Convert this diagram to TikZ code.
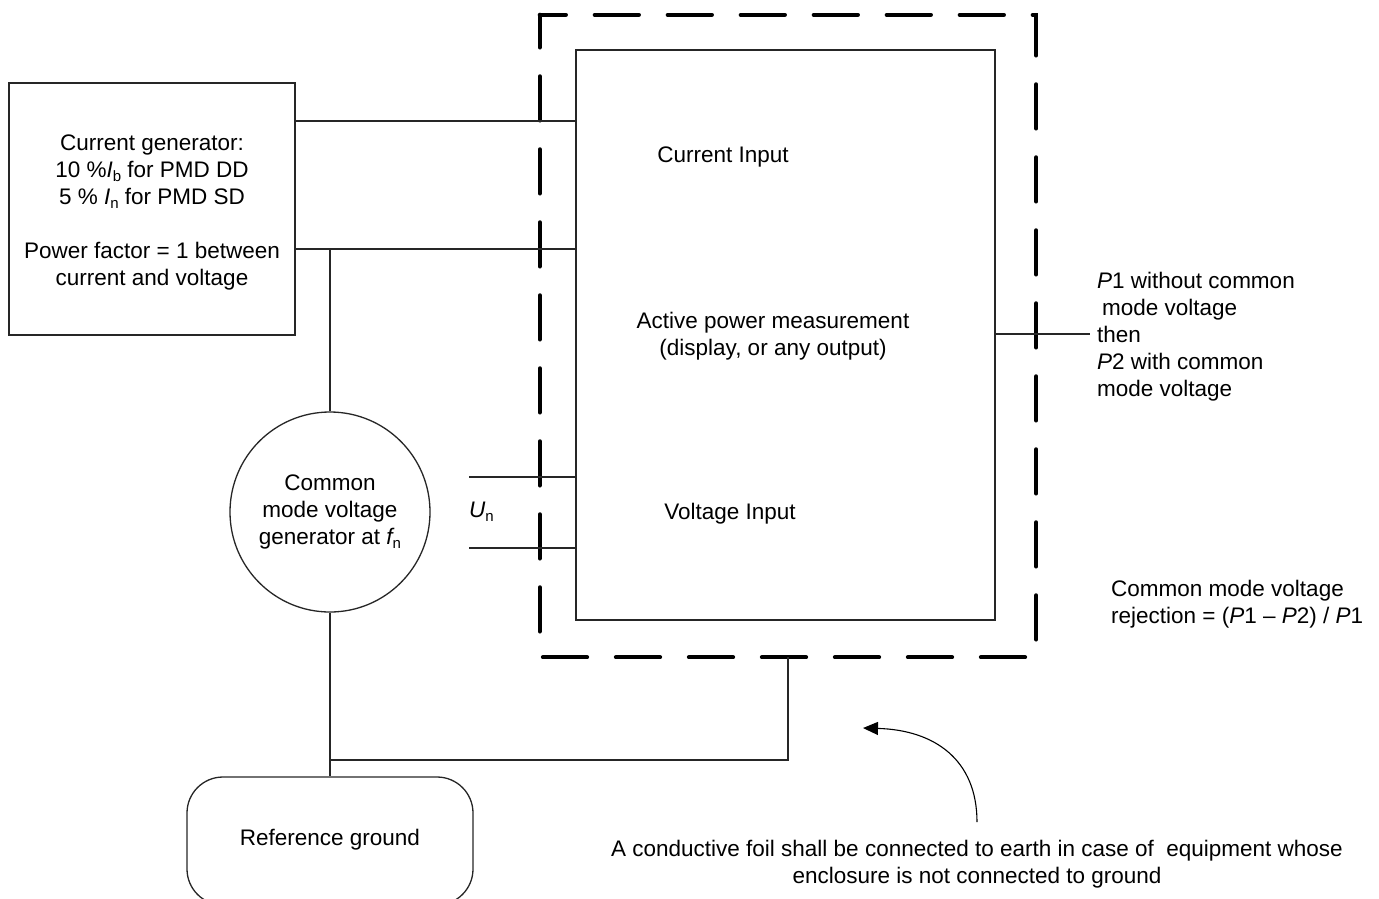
\documentclass[tikz,border=0pt]{standalone}
\usepackage{fontspec}
\setmainfont{Liberation Sans}
\usetikzlibrary{arrows.meta}
% lowered small subscript letter, as in I_b, U_n
\newcommand\lowsub[1]{\raisebox{-0.35ex}{\fontsize{15}{15}\selectfont #1}}
\begin{document}
\begin{tikzpicture}[x=1pt,y=-1pt,
  every node/.style={font=\fontsize{22.5}{27}\selectfont, inner sep=0pt},
  wire/.style={line width=1.3pt, black!85},
  box/.style={draw, line width=1.3pt, black!85},
  foilbox/.style={line width=4.3pt, dash pattern=on 44pt off 29pt, dash phase=18pt, line cap=round},
  label/.style={align=center},
  note/.style={align=left, anchor=west}]
\useasboundingbox (0,0) rectangle (1379,898);

% current generator
\node[box, minimum width=286pt, minimum height=252pt] (gen) at (152,209) {};
\node[label] (gentext) at (152,212) {Current generator:\\
  10 \%{\itshape I}\lowsub{b} for PMD DD\\
  5 \% {\itshape I}\lowsub{n} for PMD SD\\[27pt]
  Power factor = 1 between\\
  current and voltage};

% equipment under test and conductive foil around it
\node[minimum width=496pt, minimum height=642pt] (foil) at (788,336) {};
\draw[foilbox] (foil.north west) -- (foil.north east) -- (foil.south east) -- (foil.south west) -- cycle;
\node[box, minimum width=419pt, minimum height=570pt] (dut) at (785.5,335) {};
\node (curin) at (723,157) {Current Input};
\node[label] (meas) at (773,336) {Active power measurement\\(display, or any output)};
\node (volin) at (730,514) {Voltage Input};

% common mode generator and reference ground
\node[box, circle, minimum size=200pt] (cm) at (330,512) {};
\node[label] (cmtext) at (330,512) {Common\\mode voltage\\generator at {\itshape f}\lowsub{n}};
\node[box, rounded corners=36pt, minimum width=286pt, minimum height=128pt] (gnd) at (330,841) {};
\node (gndtext) at (330,840) {Reference ground};

% current circuit
\draw[wire] (gen.east |- 0,121) -- (dut.west |- 0,121);
\draw[wire] (gen.east |- 0,249) -- (dut.west |- 0,249);
\draw[wire] (cm.north) -- (cm.north |- 0,249);

% voltage circuit
\coordinate (un1) at (469,477);
\coordinate (un2) at (469,548);
\draw[wire] (un1) -- (dut.west |- un1);
\draw[wire] (un2) -- (dut.west |- un2);
\node[anchor=west] (un) at (469,512) {{\itshape U}\lowsub{n}};

% grounding
\draw[wire] (cm.south) -- (gnd.north);
\draw[wire] (cm.south |- 0,760) -| (foil.south);

% output
\coordinate (out) at (1090,334);
\draw[wire] (dut.east |- out) -- (out);
\node[note] (outtext) at (1097,337) {{\itshape P}1 without common\\
  \hspace*{5pt}mode voltage\\then\\{\itshape P}2 with common\\mode voltage};
\node[note] (cmrr) at (1111,604) {Common mode voltage\\
  rejection = ({\itshape P}1 -- {\itshape P}2) / {\itshape P}1};

% foil note with pointer
\coordinate (ptrstart) at (977,822);
\coordinate (ptrend) at (863,728);
\draw[line width=1.1pt, -{Triangle[length=15pt,width=13pt]}]
  (ptrstart) .. controls (977,760) and (935,730) .. (ptrend);
\node[label] (foilnote) at (977,864) {A conductive foil shall be connected to earth in case of\ \ equipment whose\\
  enclosure is not connected to ground};
\end{tikzpicture}
\end{document}
